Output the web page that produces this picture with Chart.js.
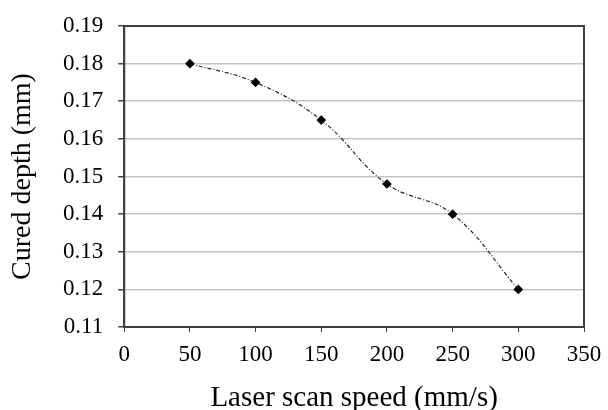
<!DOCTYPE html>
<html>
<head>
<meta charset="utf-8">
<script src="https://cdn.jsdelivr.net/npm/chart.js@4.4.1/dist/chart.umd.min.js"></script>
<style>
  html, body { margin: 0; padding: 0; background: #fff; }
  #wrap { width: 608px; height: 410px; }
</style>
</head>
<body>
<div id="wrap"><canvas id="chart" width="608" height="410"></canvas></div>
<script>
// Datos
const speeds = [50, 100, 150, 200, 250, 300];
const depths = [0.180, 0.175, 0.165, 0.148, 0.140, 0.120];
const xTicks = [0, 50, 100, 150, 200, 250, 300, 350];
const yTicks = [0.11, 0.12, 0.13, 0.14, 0.15, 0.16, 0.17, 0.18, 0.19];

const FONT = "'Liberation Serif', 'Times New Roman', serif";

// caja alrededor del área del gráfico
const frame = {
  id: "frame",
  afterDraw(chart) {
    const { ctx, chartArea: a } = chart;
    ctx.save();
    ctx.strokeStyle = "#404040";
    ctx.lineWidth = 2;
    ctx.strokeRect(a.left, a.top, a.right - a.left, a.bottom - a.top);
    ctx.restore();
  }
};

new Chart(document.getElementById("chart"), {
  type: "line",
  data: {
    datasets: [{
      data: speeds.map((x, i) => ({ x, y: depths[i] })),
      borderColor: "#222",
      borderWidth: 1.2,
      borderDash: [4, 2, 1, 2],
      tension: 0.4,
      pointStyle: "rectRot",
      pointRadius: 4,
      pointBackgroundColor: "#000",
      pointBorderColor: "#000",
      fill: false
    }]
  },
  options: {
    responsive: false,
    animation: false,
    layout: { padding: { left: 9, right: 24, top: 26, bottom: 0 } },
    plugins: { legend: { display: false }, tooltip: { enabled: false } },
    scales: {
      x: {
        type: "linear",
        min: 0, max: 350,
        afterBuildTicks: s => { s.ticks = xTicks.map(v => ({ value: v })); },
        afterFit: s => { s.paddingRight = 0; },
        ticks: { color: "#000", font: { family: FONT, size: 23, lineHeight: 1 }, padding: 11, maxRotation: 0 },
        grid: { drawOnChartArea: false, tickLength: 5, tickColor: "#404040", color: "#404040" },
        border: { color: "#404040", width: 2 },
        title: { display: true, text: "Laser scan speed (mm/s)", color: "#000", font: { family: FONT, size: 29, lineHeight: 1 }, padding: { top: 7, bottom: -3 } }
      },
      y: {
        min: 0.11, max: 0.19,
        afterBuildTicks: s => { s.ticks = yTicks.map(v => ({ value: v })); },
        afterFit: s => { s.paddingTop = 0; },
        ticks: { color: "#000", font: { family: FONT, size: 23 }, padding: 15, callback: v => v.toFixed(2) },
        grid: { color: "#c4c4c4", lineWidth: 1.5, tickLength: 6, tickColor: "#404040" },
        border: { color: "#404040", width: 2 },
        title: { display: true, text: "Cured depth (mm)", color: "#000", font: { family: FONT, size: 28, lineHeight: 1 }, padding: { top: 0, bottom: 11 } }
      }
    }
  },
  plugins: [frame]
});
</script>
</body>
</html>
